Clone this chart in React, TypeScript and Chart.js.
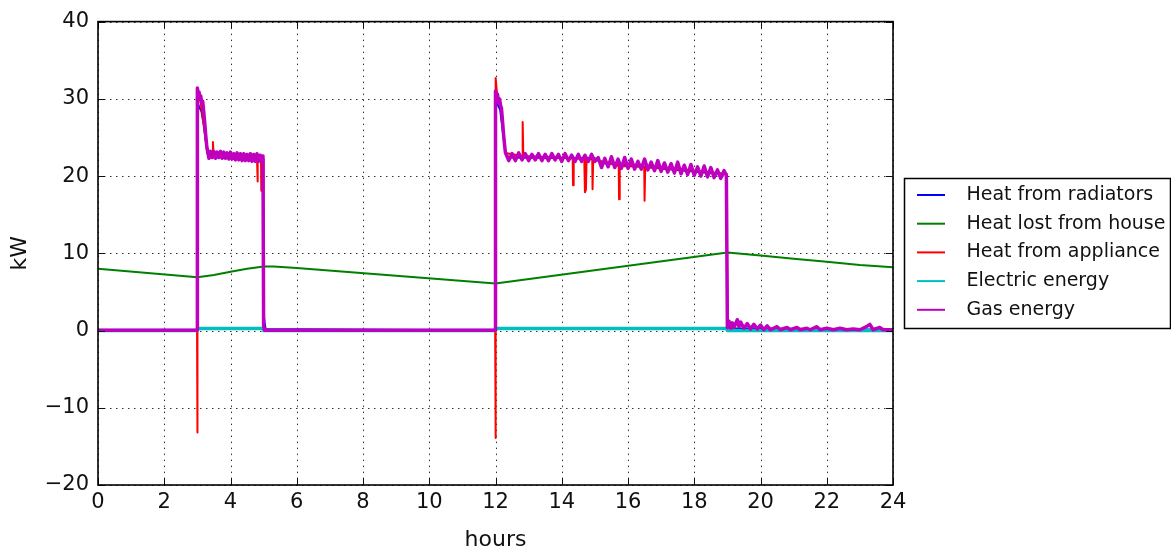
import React, { useEffect, useRef } from "react";
import { Chart, registerables } from "chart.js";

Chart.register(...registerables);

const xTickValues = [0, 2, 4, 6, 8, 10, 12, 14, 16, 18, 20, 22, 24];
const yTickValues = [-20, -10, 0, 10, 20, 30, 40];
const xTitle = "hours";
const yTitle = "kW";
const seriesNames = [
  "Heat from radiators",
  "Heat lost from house",
  "Heat from appliance",
  "Electric energy",
  "Gas energy",
];
const seriesColors = ["#0000ff", "#008000", "#ff0000", "#00bfbf", "#bf00bf"];

// [hours, kW]
const radiatorsKW: [number, number][] = [
  [0, 0], [2.99, 0], [3.0, 29.6], [3.05, 29.0], [3.12, 28.4], [3.2, 26.5], [3.3, 23.0],
  [3.5, 22.7], [4.98, 22.3], [5.0, 2.2], [5.03, 1.0], [5.06, 0.2], [11.99, 0],
  [12.0, 29.8], [12.06, 29.3], [12.14, 28.6], [12.2, 26.5], [12.3, 23.0], [12.4, 22.4],
  [15.0, 22.3], [15.2, 21.7], [18.97, 20.2], [19.0, 1.8], [19.05, 0.3], [24, 0.1],
];

const heatLostKW: [number, number][] = [
  [0, 8.0], [3.0, 6.9], [3.5, 7.2], [4.0, 7.6], [4.5, 8.0], [5.0, 8.3], [5.3, 8.3],
  [6.0, 8.1], [12.0, 6.1], [19.0, 10.1], [20.0, 9.7], [21.0, 9.3], [22.0, 8.9],
  [23.0, 8.5], [24.0, 8.2],
];

const applianceKW: [number, number][] = [
  [0, 0], [2.99, 0], [3.0, -13.2], [3.005, 31.0], [3.1, 29.5], [3.3, 23.0], [3.45, 22.6],
  [3.47, 24.4], [3.49, 22.6], [4.0, 22.4], [4.8, 22.2], [4.81, 19.3], [4.83, 22.2],
  [4.92, 22.2], [4.93, 18.1], [4.95, 22.2], [4.99, 22.2], [5.0, 0], [11.99, 0],
  [12.0, -13.9], [12.01, 32.7], [12.05, 30.5], [12.15, 29.5], [12.3, 23.0], [12.8, 22.6],
  [12.82, 27.0], [12.84, 22.6], [14.33, 22.3], [14.34, 18.8], [14.36, 22.3], [14.68, 22.2],
  [14.7, 17.9], [14.73, 18.2], [14.75, 22.2], [14.92, 22.2], [14.93, 18.3], [14.95, 22.2],
  [15.72, 21.3], [15.73, 17.0], [15.75, 21.3], [16.49, 21.2], [16.5, 16.8], [16.52, 21.2],
  [18.98, 20.3], [19.0, 1.5], [19.02, 0], [24, 0],
];

const electricKW: [number, number][] = [
  [0, 0], [3.0, 0], [3.0, 0.25], [5.0, 0.25], [5.0, 0], [12.0, 0], [12.0, 0.25],
  [19.0, 0.25], [19.0, 0], [24, 0],
];

const gasKW: [number, number][] = [
  [0, 0.05], [2.99, 0.05], [3.0, 31.4], [3.03, 30.4], [3.05, 30.9], [3.08, 29.9],
  [3.1, 30.4], [3.13, 29.5], [3.16, 29.7], [3.19, 28.4], [3.22, 27.0], [3.25, 25.4],
  [3.28, 24.0], [3.31, 23.2], [3.35, 22.3], [3.4, 23.2], [3.45, 22.4], [3.5, 23.2],
  [3.55, 22.3], [3.6, 23.1], [3.65, 22.4], [3.7, 23.2], [3.75, 22.3], [3.8, 23.1],
  [3.85, 22.3], [3.9, 23.0], [3.95, 22.2], [4.0, 23.1], [4.05, 22.2], [4.1, 22.9],
  [4.15, 22.1], [4.2, 23.0], [4.25, 22.1], [4.3, 22.9], [4.35, 22.0], [4.4, 22.9],
  [4.45, 22.0], [4.5, 22.8], [4.55, 22.0], [4.6, 22.9], [4.65, 21.9], [4.7, 22.8],
  [4.75, 21.9], [4.8, 22.9], [4.85, 21.9], [4.9, 22.7], [4.95, 21.9], [4.98, 22.6],
  [5.0, 0.6], [5.03, 0.05], [11.99, 0.05],
  [12.0, 31.0], [12.03, 30.0], [12.06, 30.6], [12.09, 29.6], [12.12, 30.0], [12.15, 29.2],
  [12.18, 28.8], [12.21, 27.2], [12.24, 25.6], [12.27, 24.2], [12.3, 23.0],
  [12.4, 22.0], [12.5, 22.9], [12.6, 22.0], [12.7, 23.0], [12.8, 22.1], [12.9, 22.9],
  [13.0, 22.0], [13.1, 22.8], [13.2, 22.1], [13.3, 22.9], [13.4, 22.0], [13.5, 22.8],
  [13.6, 22.0], [13.7, 22.9], [13.8, 22.1], [13.9, 22.8], [14.0, 21.9], [14.1, 22.9],
  [14.2, 22.0], [14.3, 22.7], [14.4, 21.9], [14.5, 22.8], [14.6, 21.9], [14.7, 22.7],
  [14.8, 21.9], [14.9, 22.8], [15.0, 21.9], [15.1, 22.4], [15.2, 21.1], [15.3, 22.3],
  [15.4, 21.2], [15.5, 22.5], [15.6, 21.1], [15.7, 22.2], [15.8, 21.0], [15.9, 22.4],
  [16.0, 21.0], [16.1, 22.2], [16.2, 20.9], [16.3, 21.9], [16.4, 20.9], [16.5, 22.2],
  [16.6, 20.8], [16.7, 21.8], [16.8, 20.7], [16.9, 22.0], [17.0, 20.6], [17.1, 21.7],
  [17.2, 20.5], [17.3, 21.6], [17.4, 20.4], [17.5, 21.8], [17.6, 20.3], [17.7, 21.4],
  [17.8, 20.2], [17.9, 21.5], [18.0, 20.1], [18.1, 21.2], [18.2, 20.0], [18.3, 21.3],
  [18.4, 19.9], [18.5, 21.1], [18.6, 19.8], [18.7, 20.8], [18.8, 19.7], [18.9, 20.7],
  [18.97, 20.1], [19.0, 0.4],
  [19.05, 1.2], [19.1, 0.3], [19.15, 1.0], [19.2, 0.4], [19.3, 1.4], [19.35, 0.5],
  [19.4, 1.1], [19.5, 0.3], [19.6, 0.9], [19.7, 0.2], [19.8, 0.8], [19.9, 0.2],
  [20.0, 0.7], [20.1, 0.1], [20.2, 0.6], [20.3, 0.1], [20.5, 0.5], [20.6, 0.1],
  [20.8, 0.4], [20.9, 0.1], [21.1, 0.4], [21.2, 0.1], [21.4, 0.3], [21.5, 0.1],
  [21.7, 0.5], [21.8, 0.1], [22.0, 0.3], [22.2, 0.1], [22.4, 0.3], [22.6, 0.1],
  [22.8, 0.2], [23.0, 0.1], [23.2, 0.5], [23.3, 0.8], [23.4, 0.1], [23.6, 0.4],
  [23.7, 0.1], [24.0, 0.1],
];

const seriesData = [radiatorsKW, heatLostKW, applianceKW, electricKW, gasKW];
const seriesWidths = [2, 2, 2, 3.5, 3.5];
const seriesOrder = [5, 4, 3, 2, 1];

const FONT = "'DejaVu Sans', sans-serif";

const framePlugin = {
  id: "mplFrame",
  beforeDatasetsDraw(chart: any) {
    const { ctx, chartArea } = chart;
    const xs = chart.scales.x;
    const ys = chart.scales.y;
    ctx.save();
    ctx.strokeStyle = "rgba(0,0,0,0.8)";
    ctx.lineWidth = 1;
    ctx.setLineDash([1.5, 4.5]);
    for (const v of xTickValues) {
      const px = Math.round(xs.getPixelForValue(v)) + 0.5;
      ctx.beginPath();
      ctx.moveTo(px, chartArea.top);
      ctx.lineTo(px, chartArea.bottom);
      ctx.stroke();
    }
    for (const v of yTickValues) {
      const py = Math.round(ys.getPixelForValue(v)) + 0.5;
      ctx.beginPath();
      ctx.moveTo(chartArea.left, py);
      ctx.lineTo(chartArea.right, py);
      ctx.stroke();
    }
    ctx.restore();
  },
  afterDatasetsDraw(chart: any) {
    const { ctx, chartArea } = chart;
    const xs = chart.scales.x;
    const ys = chart.scales.y;
    const { left, right, top, bottom } = chartArea;
    ctx.save();
    ctx.setLineDash([]);
    ctx.strokeStyle = "#111";
    ctx.lineWidth = 1;
    const tl = 7;
    for (const v of xTickValues) {
      const px = Math.round(xs.getPixelForValue(v)) + 0.5;
      ctx.beginPath();
      ctx.moveTo(px, bottom);
      ctx.lineTo(px, bottom - tl);
      ctx.moveTo(px, top);
      ctx.lineTo(px, top + tl);
      ctx.stroke();
    }
    for (const v of yTickValues) {
      const py = Math.round(ys.getPixelForValue(v)) + 0.5;
      ctx.beginPath();
      ctx.moveTo(left, py);
      ctx.lineTo(left + tl, py);
      ctx.moveTo(right, py);
      ctx.lineTo(right - tl, py);
      ctx.stroke();
    }
    ctx.lineWidth = 1.6;
    ctx.strokeStyle = "#000";
    ctx.strokeRect(left, top, right - left, bottom - top);
    ctx.restore();
  },
  afterDraw(chart: any) {
    const { ctx, chartArea } = chart;
    ctx.save();
    ctx.fillStyle = "#111";
    ctx.font = `22px ${FONT}`;
    ctx.textAlign = "center";
    ctx.textBaseline = "alphabetic";
    ctx.fillText(xTitle, (chartArea.left + chartArea.right) / 2, 546);
    ctx.save();
    ctx.translate(26, (chartArea.top + chartArea.bottom) / 2);
    ctx.rotate(-Math.PI / 2);
    ctx.fillText(yTitle, 0, 0);
    ctx.restore();

    // legend
    const bx = chartArea.right + 11.5;
    const bw = 266;
    const bh = 150;
    const by = Math.round((chartArea.top + chartArea.bottom) / 2 - bh / 2) + 0.5;
    ctx.fillStyle = "#fff";
    ctx.fillRect(bx, by, bw, bh);
    ctx.strokeStyle = "#000";
    ctx.lineWidth = 1.5;
    ctx.strokeRect(bx, by, bw, bh);
    ctx.font = `19px ${FONT}`;
    ctx.textAlign = "left";
    ctx.textBaseline = "middle";
    for (let i = 0; i < seriesNames.length; i++) {
      const cy = by + 16.5 + i * 28.7;
      ctx.strokeStyle = seriesColors[i];
      ctx.lineWidth = 2;
      ctx.beginPath();
      ctx.moveTo(bx + 12.5, cy);
      ctx.lineTo(bx + 40.5, cy);
      ctx.stroke();
      ctx.fillStyle = "#111";
      ctx.fillText(seriesNames[i], bx + 62, cy);
    }
    ctx.restore();
  },
};

export default function App() {
  const canvasRef = useRef<HTMLCanvasElement | null>(null);

  useEffect(() => {
    const canvas = canvasRef.current;
    if (!canvas) return;
    const chart = new Chart(canvas, {
      type: "line",
      data: {
        datasets: seriesNames.map((name, i) => ({
          label: name,
          data: seriesData[i].map(([x, y]) => ({ x, y })),
          borderColor: seriesColors[i],
          backgroundColor: seriesColors[i],
          borderWidth: seriesWidths[i],
          pointRadius: 0,
          tension: 0,
          fill: false,
          order: seriesOrder[i],
          borderJoinStyle: "round" as const,
        })),
      },
      options: {
        responsive: false,
        animation: false,
        devicePixelRatio: 1,
        layout: { padding: { left: 0, top: 19, right: 278, bottom: 0 } },
        plugins: {
          legend: { display: false },
          tooltip: { enabled: false },
        },
        scales: {
          x: {
            type: "linear",
            min: 0,
            max: 24,
            afterFit: (s: any) => {
              s.height = 68;
            },
            afterBuildTicks: (s: any) => {
              s.ticks = xTickValues.map((v) => ({ value: v }));
            },
            grid: { display: false, drawTicks: false },
            border: { display: false },
            ticks: {
              autoSkip: false,
              maxRotation: 0,
              padding: 5,
              color: "#111",
              font: { family: FONT, size: 21 },
              callback: (v: any) => String(v).replace("-", "\u2212"),
            },
          },
          y: {
            type: "linear",
            min: -20,
            max: 40,
            afterFit: (s: any) => {
              s.width = 98;
            },
            afterBuildTicks: (s: any) => {
              s.ticks = yTickValues.map((v) => ({ value: v }));
            },
            grid: { display: false, drawTicks: false },
            border: { display: false },
            ticks: {
              autoSkip: false,
              padding: 9,
              color: "#111",
              font: { family: FONT, size: 21 },
              callback: (v: any) => String(v).replace("-", "\u2212"),
            },
          },
        },
      },
      plugins: [framePlugin],
    });
    return () => chart.destroy();
  }, []);

  return (
    <div style={{ position: "fixed", left: 0, top: 0, width: 1171, height: 553, background: "#fff" }}>
      <canvas ref={canvasRef} width={1171} height={553} style={{ display: "block" }} />
    </div>
  );
}
